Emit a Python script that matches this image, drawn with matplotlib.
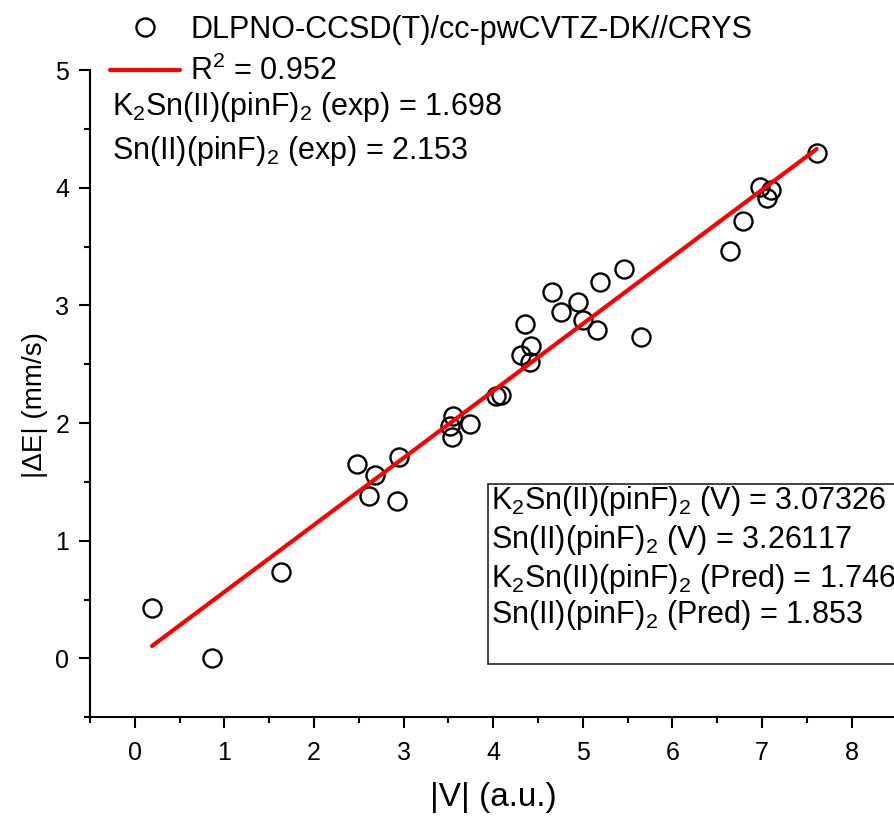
import numpy as np
import matplotlib
matplotlib.use('Agg')
import matplotlib.pyplot as plt
from matplotlib.ticker import MultipleLocator
from matplotlib.patches import Rectangle

plt.rcParams['font.family'] = ['Liberation Sans', 'DejaVu Sans']
plt.rcParams['mathtext.fontset'] = 'custom'
plt.rcParams['mathtext.rm'] = 'Liberation Sans'
plt.rcParams['mathtext.it'] = 'Liberation Sans:italic'
plt.rcParams['mathtext.bf'] = 'Liberation Sans:bold'

# |V| (a.u.) vs |dE| (mm/s)
v_abs = [0.193, 0.867, 1.631, 2.484, 2.682, 2.618, 2.927, 2.953,
         3.542, 3.520, 3.556, 3.735, 4.034, 4.089, 4.313, 4.406,
         4.420, 4.358, 4.651, 4.752, 4.942, 4.998, 5.158, 5.196,
         5.459, 5.649, 6.640, 6.789, 6.975, 7.050, 7.095, 7.609]
dE = [0.428, 0.000, 0.731, 1.648, 1.561, 1.382, 1.340, 1.711,
      1.881, 1.971, 2.062, 1.990, 2.226, 2.240, 2.580, 2.515,
      2.657, 2.841, 3.110, 2.940, 3.025, 2.872, 2.793, 3.200,
      3.308, 2.731, 3.464, 3.721, 4.002, 3.912, 3.982, 4.294]

# linear fit (from the predicted values in the box)
slope = 0.5694
intercept = -0.004
r2_txt = 'R$^2$ = 0.952'

exp_lines = ['K$_2$Sn(II)(pinF)$_2$ (exp) = 1.698',
             'Sn(II)(pinF)$_2$ (exp) = 2.153']
box_lines = ['K$_2$Sn(II)(pinF)$_2$ (V) = 3.07326',
             'Sn(II)(pinF)$_2$ (V) = 3.26117',
             'K$_2$Sn(II)(pinF)$_2$ (Pred) = 1.746',
             'Sn(II)(pinF)$_2$ (Pred) = 1.853']

W, H = 895, 821
fs = 22
fig = plt.figure(figsize=(W / 100, H / 100), dpi=100)
ax = fig.add_axes([90 / W, 1 - 717.3 / H, 806.5 / W, 647.3 / H])

h1, = ax.plot(v_abs, dE, 'o', mfc='none', mec='black', ms=13, mew=1.7,
              label='DLPNO-CCSD(T)/cc-pwCVTZ-DK//CRYS', zorder=3)
xfit = np.array([min(v_abs), max(v_abs)])
h2, = ax.plot(xfit, slope * xfit + intercept, color='red', lw=3,
              solid_capstyle='round', label=r2_txt, zorder=4)

ax.set_xlim(-0.5, 8.5)
ax.set_ylim(-0.5, 5.0)
ax.set_xticks(range(0, 9))
ax.set_yticks(range(0, 6))
ax.xaxis.set_minor_locator(MultipleLocator(0.5))
ax.yaxis.set_minor_locator(MultipleLocator(0.5))
ax.spines['top'].set_visible(False)
ax.spines['right'].set_visible(False)
ax.spines['left'].set_linewidth(1.5)
ax.spines['bottom'].set_linewidth(1.5)
ax.tick_params(which='major', direction='out', length=8, width=1.5, labelsize=18)
ax.tick_params(which='minor', direction='out', length=4, width=1.5)
ax.tick_params(axis='x', which='major', pad=9)
ax.tick_params(axis='y', which='major', pad=7)

ax.set_xlabel('|V| (a.u.)', fontsize=24)
ax.set_ylabel('|ΔE| (mm/s)', fontsize=20)
ax.xaxis.set_label_coords(0.5, -0.1)
ax.yaxis.set_label_coords(-0.052, 0.482)

fig.legend(handles=[h1, h2], loc='upper left', bbox_to_anchor=(110 / W, 1 - 15 / H),
           frameon=False, fontsize=fs, handlelength=2.3, handletextpad=0.33,
           borderpad=0, borderaxespad=0, labelspacing=0.36)

for txt, yb in zip(exp_lines, [115, 159]):
    fig.text(112 / W, 1 - yb / H, txt, fontsize=fs, va='baseline')

fig.add_artist(Rectangle((488 / W, 1 - 664.3 / H), 0.6, (664.3 - 484) / H,
                         transform=fig.transFigure, facecolor='white',
                         edgecolor='#222222', lw=1.2, zorder=5))
for txt, yb in zip(box_lines, [509.3, 548.3, 586.7, 623.3]):
    fig.text(491 / W, 1 - yb / H, txt, fontsize=fs, va='baseline', zorder=6)

fig.savefig('out.png', dpi=100)
